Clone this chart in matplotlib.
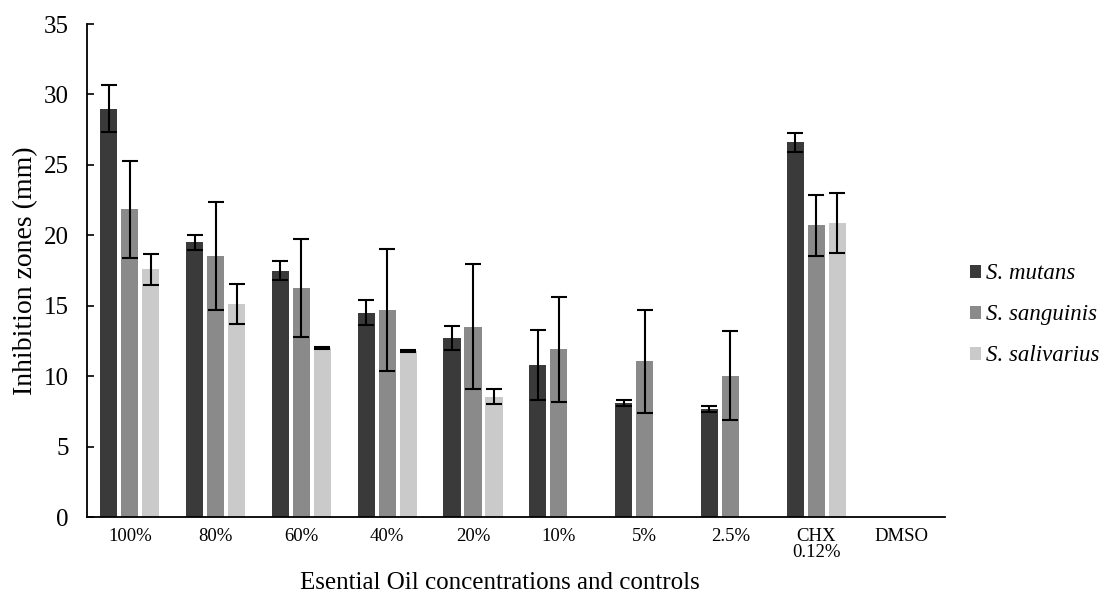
import numpy as np
import matplotlib
matplotlib.use("Agg")
import matplotlib.pyplot as plt

# data
categories = ['100%', '80%', '60%', '40%', '20%', '10%', '5%', '2.5%', 'CHX\n0.12%', 'DMSO']
species = ['S. mutans', 'S. sanguinis', 'S. salivarius']
mutans = [29.0, 19.5, 17.5, 14.5, 12.7, 10.8, 8.1, 7.7, 26.6, 0]
mutans_err = [1.7, 0.55, 0.67, 0.88, 0.83, 2.5, 0.2, 0.22, 0.69, 0]
sanguinis = [21.85, 18.55, 16.25, 14.7, 13.5, 11.9, 11.05, 10.05, 20.7, 0]
sanguinis_err = [3.43, 3.85, 3.5, 4.36, 4.44, 3.7, 3.65, 3.13, 2.15, 0]
salivarius = [17.6, 15.1, 12.0, 11.8, 8.55, 0, 0, 0, 20.85, 0]
salivarius_err = [1.09, 1.42, 0.05, 0.08, 0.55, 0, 0, 0, 2.13, 0]

colors = ['#3a3a3a', '#8a8a8a', '#cacaca']

plt.rcParams['font.family'] = ['Liberation Serif', 'DejaVu Serif']

fig = plt.figure(figsize=(11.05, 5.93), dpi=100)
ax = fig.add_axes([0.0787, 0.128, 0.7763, 0.8315])

x = np.arange(len(categories))
width = 0.2
offsets = [-0.245, 0, 0.245]
series = [(mutans, mutans_err), (sanguinis, sanguinis_err), (salivarius, salivarius_err)]

for i, (vals, errs) in enumerate(series):
    vals = np.array(vals)
    errs = np.array(errs)
    ax.bar(x + offsets[i], vals, width, color=colors[i], label=species[i], zorder=2)
    has = vals > 0
    ax.errorbar(x[has] + offsets[i], vals[has], yerr=errs[has], fmt='none',
                ecolor='black', elinewidth=1.5, capsize=6, capthick=1.5, zorder=3)

ax.set_xlim(-0.5, len(categories) - 0.5)
ax.set_ylim(0, 35)
ax.set_yticks(np.arange(0, 36, 5))
ax.set_xticks(x)
ax.set_xticklabels(categories, fontsize=13.5, linespacing=0.9)
ax.tick_params(axis='x', length=0, pad=8)
ax.tick_params(axis='y', direction='in', length=5, width=1.2, labelsize=18, pad=13)

ax.spines['top'].set_visible(False)
ax.spines['right'].set_visible(False)
ax.spines['left'].set_linewidth(1.3)
ax.spines['bottom'].set_linewidth(1.3)

ax.set_ylabel('Inhibition zones (mm)', fontsize=20, labelpad=4)
fig.text(0.452, 0.006, 'Esential Oil concentrations and controls', fontsize=18,
         ha='center', va='baseline')

handles, labels = ax.get_legend_handles_labels()
fig.legend(handles, labels, loc='center left', bbox_to_anchor=(0.859, 0.469),
           frameon=False, prop={'style': 'italic', 'size': 16.5},
           handlelength=0.5, handleheight=0.5, handletextpad=0.2, labelspacing=0.87)

fig.savefig('out.png', dpi=100)
